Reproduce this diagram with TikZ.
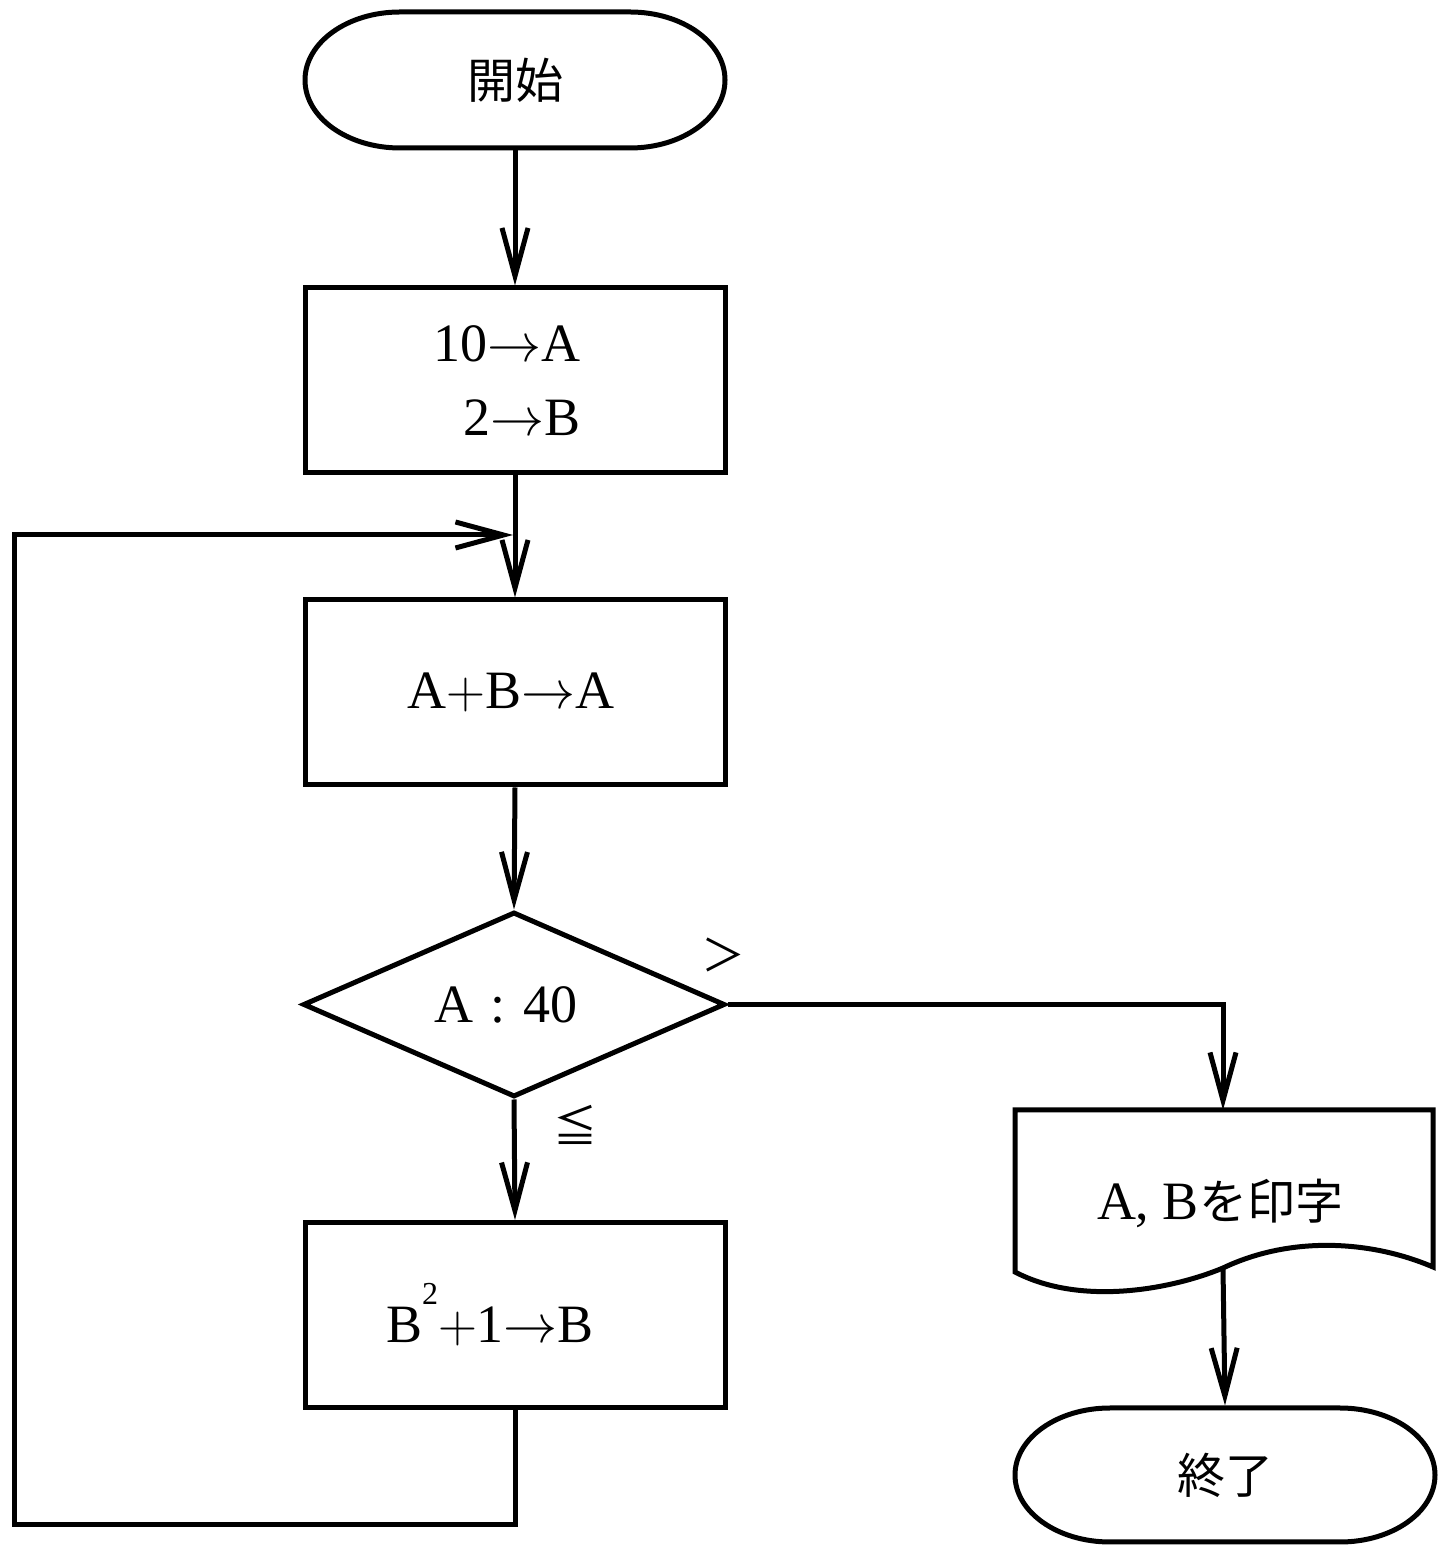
\RequirePackage{fix-cm}
\documentclass[tikz,border=0pt]{standalone}
\usepackage{fix-cm}
\usepackage{fontspec}
\setmainfont{Liberation Serif}
\newfontfamily\cjk{Noto Sans CJK JP}
\usetikzlibrary{arrows.meta,shapes.geometric}
\newcommand{\ra}{$\rightarrow$}
\newcommand{\pl}{$+$}
\begin{document}
\begin{tikzpicture}[x=1pt,y=1pt,line width=5pt,
  lat/.style={font=\fontsize{54}{70}\selectfont},
  jp/.style={font=\cjk\fontsize{48}{56}\selectfont},
  box/.style={draw,rectangle,minimum width=420pt,minimum height=185pt,inner sep=0pt,lat},
  term/.style={rectangle,minimum width=420pt,minimum height=136pt,inner sep=0pt,jp},
  arr/.style={-{Straight Barb[length=48pt,width=26pt]}},
  lbl/.style={inner sep=0pt}]
\useasboundingbox (0,0) rectangle (1446,1556);
% start terminal
\draw (400,1544) -- (630,1544) arc[start angle=90,end angle=-90,x radius=95,y radius=68]
  -- (400,1408) arc[start angle=270,end angle=90,x radius=95,y radius=68] -- cycle;
\node[term] (start) at (515,1476) {開始};
% boxes
\node[box] (b1) at (515,1175.5) {};
\node[lat,align=right] (b1t) at (507,1175.5) {10\ra A\\[4pt]2\ra B};
\node[box] (b2) at (515,863.5) {};
\node[lat] (b2t) at (511,863.5) {A\pl B\ra A};
\node[draw,diamond,minimum width=422pt,minimum height=185pt,inner sep=0pt,lat] (d) at (514,551.5) {};
\node[lat] (dt) at (506,551.5) {A\,\,:\,\,40};
\node[box] (b3) at (515,241) {};
\node[lat] (b3t) at (490,241) {B\raisebox{38pt}{\fontsize{32}{32}\selectfont 2}\pl 1\ra B};
% document shape
\draw (1015,284) -- (1015,446) -- (1433,446) -- (1433,289)
  .. controls (1370,316) and (1290,320) .. (1223,288)
  .. controls (1170,266) and (1080,250) .. (1015,284) -- cycle;
\node[lat] (doc) at (1220,353) {A, B{\cjk\fontsize{48}{56}\selectfont を印字}};
\coordinate (docin) at (1223,446);
\coordinate (docout) at (1223,288);
% end terminal
\draw (1110,148) -- (1340,148) arc[start angle=90,end angle=-90,x radius=95,y radius=67]
  -- (1110,14) arc[start angle=270,end angle=90,x radius=95,y radius=67] -- cycle;
\node[term,minimum height=134pt] (end) at (1225,81) {終了};
% connectors
\draw[arr] (start.south) -- (b1.north);
\draw[arr] (b1.south) -- (b2.north);
\draw[arr] (b2.south) -- (d.north);
\draw[arr] (d.south) -- (b3.north);
\draw[arr] (d.east) -| (docin);
\draw[arr] (docout) -- (end.north);
\coordinate (lb) at (14,31);
\coordinate (lt) at (14,1021);
\coordinate (join) at (513,1021);
\draw[arr] (b3.south) |- (lb) -- (lt) -- (join);
% labels
\node[lbl,font=\cjk\fontsize{44}{50}\selectfont] (gt) at (723,601) {＞};
\node[lbl,font=\cjk\fontsize{44}{50}\selectfont] (le) at (575,431) {≦};
\end{tikzpicture}
\end{document}
